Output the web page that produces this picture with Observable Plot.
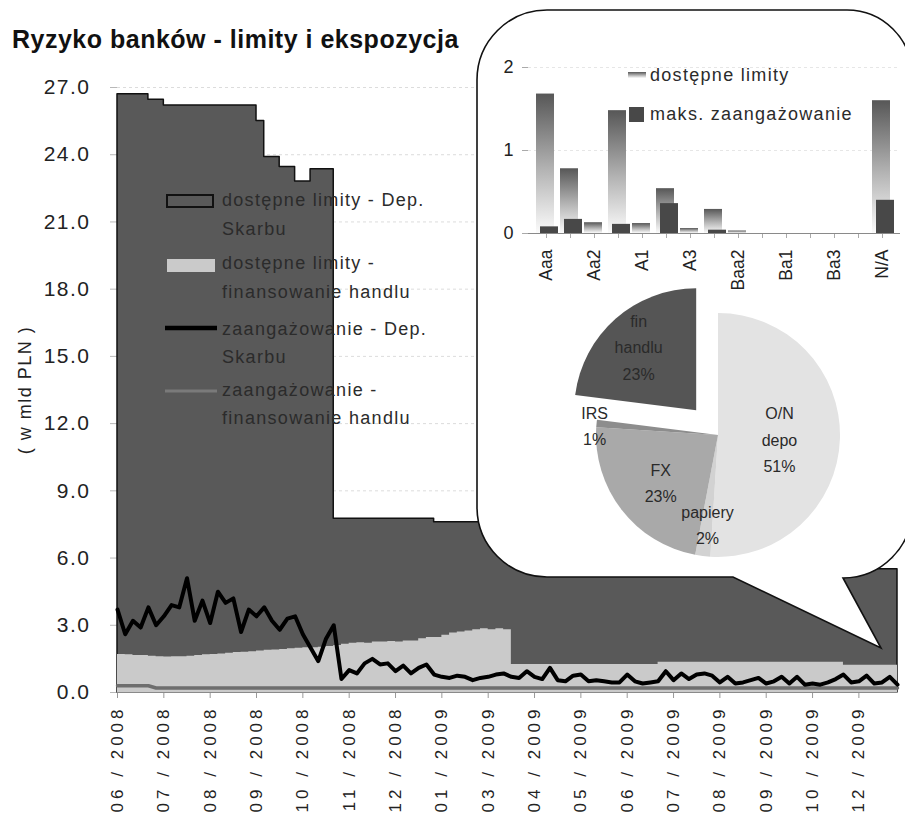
<!DOCTYPE html>
<html lang="pl">
<head>
<meta charset="utf-8">
<title>Ryzyko banków - limity i ekspozycja</title>
<script src="https://cdn.jsdelivr.net/npm/d3@7"></script>
<script src="https://cdn.jsdelivr.net/npm/@observablehq/plot@0.6"></script>
<style>
  html, body { margin: 0; padding: 0; background: #fff; }
  #chart { position: relative; width: 905px; height: 821px; overflow: hidden; font-family: "Liberation Sans", Arial, Helvetica, sans-serif; }
  #chart .layer { position: absolute; }
  #title { position: absolute; left: 12px; top: 27px; font-size: 25px; line-height: 25px; font-weight: bold; letter-spacing: 0.5px; color: #111; white-space: nowrap; }
  #ytitle { position: absolute; left: 25px; top: 390px; width: 200px; margin-left: -100px; margin-top: -10px; height: 20px; line-height: 20px;
            text-align: center; font-size: 18px; letter-spacing: 1.5px; color: #222; transform: rotate(-90deg); white-space: nowrap; }
  #main [aria-label^="y-axis"] text { font-size: 21px !important; letter-spacing: 1.5px; fill: #222; }
  #main [aria-label^="x-axis"] text { font-size: 17px !important; letter-spacing: 4px; fill: #222; }
  #main [aria-label^="y-axis"] path, #main [aria-label^="y-axis"] line { stroke: #b8b8b8; }
  #main [aria-label^="x-axis"] path, #main [aria-label^="x-axis"] line { stroke: #999; }
  #inset [aria-label^="y-axis"] text { font-size: 18px !important; fill: #222; }
  #inset [aria-label^="x-axis"] text { font-size: 17.5px !important; fill: #222; }
  #inset [aria-label^="y-axis"] path, #inset [aria-label^="y-axis"] line,
  #inset [aria-label^="x-axis"] path, #inset [aria-label^="x-axis"] line { stroke: #aaa; }
  #pie [aria-label="pie-label"] text { letter-spacing: 0.8px; }
</style>
</head>
<body>
<div id="chart">
  <div class="layer" id="main" style="left:0;top:0;"></div>
  <div class="layer" id="bubble" style="left:470px;top:0;"></div>
  <div class="layer" id="inset" style="left:470px;top:0;"></div>
  <div class="layer" id="pie" style="left:568px;top:285px;"></div>
  <div id="title">Ryzyko banków - limity i ekspozycja</div>
  <div id="ytitle">( w mld PLN )</div>
</div>
<script>
const FONT = '"Liberation Sans", Arial, Helvetica, sans-serif';

// ---- Main chart: daily series sampled on the category axis (observation index) ----
const tickIndex = [0, 6, 12, 18, 24, 30, 36, 42, 48, 54, 60, 66, 72, 78, 84, 90, 96];
const tickLabels = ["06 / 2008", "07 / 2008", "08 / 2008", "09 / 2008", "10 / 2008", "11 / 2008",
  "12 / 2008", "01 / 2009", "03 / 2009", "04 / 2009", "05 / 2009", "06 / 2009", "07 / 2009",
  "08 / 2009", "09 / 2009", "10 / 2009", "12 / 2009"];
const yTicks = [0, 3, 6, 9, 12, 15, 18, 21, 24, 27];

// dostępne limity - Dep. Skarbu (total available limits, bn PLN)
const limitDS = [
  26.7, 26.7, 26.7, 26.7, 26.45, 26.45, 26.2, 26.2, 26.2, 26.2,
  26.2, 26.2, 26.2, 26.2, 26.2, 26.2, 26.2, 26.2, 25.5, 23.9,
  23.9, 23.45, 23.45, 22.8, 22.8, 23.35, 23.35, 23.35, 7.75, 7.75,
  7.75, 7.75, 7.75, 7.75, 7.75, 7.75, 7.75, 7.75, 7.75, 7.75,
  7.75, 7.6, 7.6, 7.6, 7.6, 7.6, 7.6, 7.6, 7.6, 7.6,
  7.0, 6.0, 6.0, 6.0, 6.0, 6.0, 6.0, 6.0, 6.0, 6.0,
  6.0, 6.0, 6.0, 6.0, 6.0, 6.0, 6.0, 6.0, 6.0, 5.75,
  5.75, 5.75, 5.75, 5.75, 5.75, 5.75, 5.75, 5.75, 5.75, 5.75,
  5.75, 5.75, 5.75, 5.75, 5.75, 5.75, 5.75, 5.5, 5.5, 5.5,
  5.5, 5.5, 5.5, 5.5, 5.5, 5.5, 5.5, 5.5, 5.5, 5.5,
  5.5, 5.5
];
// dostępne limity - finansowanie handlu
const limitFin = [
  1.7, 1.68, 1.65, 1.65, 1.62, 1.6, 1.58, 1.6, 1.6, 1.62,
  1.65, 1.68, 1.7, 1.72, 1.75, 1.78, 1.8, 1.82, 1.85, 1.88,
  1.9, 1.92, 1.95, 1.98, 2.0, 2.0, 2.02, 2.05, 2.1, 2.15,
  2.2, 2.22, 2.2, 2.25, 2.25, 2.28, 2.25, 2.3, 2.3, 2.4,
  2.45, 2.45, 2.55, 2.65, 2.7, 2.75, 2.8, 2.85, 2.8, 2.85,
  2.8, 1.25, 1.25, 1.25, 1.25, 1.25, 1.25, 1.25, 1.25, 1.25,
  1.25, 1.25, 1.25, 1.25, 1.25, 1.25, 1.25, 1.25, 1.25, 1.25,
  1.35, 1.35, 1.35, 1.35, 1.35, 1.35, 1.35, 1.35, 1.35, 1.35,
  1.35, 1.35, 1.35, 1.35, 1.35, 1.35, 1.35, 1.35, 1.35, 1.35,
  1.35, 1.35, 1.35, 1.35, 1.22, 1.22, 1.22, 1.22, 1.22, 1.22,
  1.22, 1.22
];
// zaangażowanie - Dep. Skarbu
const expDS = [
  3.7, 2.6, 3.2, 2.9, 3.8, 3.0, 3.4, 3.9, 3.8, 5.1,
  3.2, 4.1, 3.1, 4.5, 4.0, 4.2, 2.7, 3.7, 3.4, 3.8,
  3.2, 2.8, 3.3, 3.4, 2.6, 2.0, 1.4, 2.4, 3.0, 0.6,
  1.0, 0.85, 1.3, 1.5, 1.25, 1.3, 0.95, 1.2, 0.85, 1.1,
  1.25, 0.8, 0.7, 0.65, 0.75, 0.7, 0.55, 0.65, 0.7, 0.8,
  0.85, 0.7, 0.65, 0.95, 0.7, 0.6, 1.1, 0.55, 0.5, 0.75,
  0.8, 0.5, 0.55, 0.5, 0.45, 0.45, 0.8, 0.5, 0.4, 0.45,
  0.5, 0.95, 0.55, 0.85, 0.6, 0.8, 0.85, 0.75, 0.45, 0.7,
  0.4, 0.45, 0.55, 0.65, 0.4, 0.5, 0.7, 0.4, 0.7, 0.35,
  0.4, 0.35, 0.45, 0.6, 0.8, 0.45, 0.5, 0.75, 0.4, 0.45,
  0.7, 0.35
];
// zaangażowanie - finansowanie handlu
const expFin = [
  0.3, 0.3, 0.3, 0.3, 0.3, 0.2, 0.2, 0.2, 0.2, 0.2,
  0.2, 0.2, 0.2, 0.2, 0.2, 0.2, 0.2, 0.2, 0.2, 0.2,
  0.2, 0.2, 0.2, 0.2, 0.2, 0.2, 0.2, 0.2, 0.2, 0.2,
  0.2, 0.2, 0.2, 0.2, 0.2, 0.2, 0.2, 0.2, 0.2, 0.2,
  0.2, 0.2, 0.2, 0.2, 0.2, 0.2, 0.2, 0.2, 0.2, 0.2,
  0.2, 0.2, 0.2, 0.2, 0.2, 0.2, 0.2, 0.2, 0.2, 0.2,
  0.2, 0.2, 0.2, 0.2, 0.2, 0.2, 0.2, 0.2, 0.2, 0.2,
  0.2, 0.2, 0.2, 0.2, 0.2, 0.2, 0.2, 0.2, 0.2, 0.2,
  0.2, 0.2, 0.2, 0.2, 0.2, 0.2, 0.2, 0.2, 0.2, 0.2,
  0.2, 0.2, 0.2, 0.2, 0.2, 0.2, 0.2, 0.2, 0.2, 0.2,
  0.2, 0.2
];
const mainLegendText = [
  ["dostępne limity - Dep.", "Skarbu"],
  ["dostępne limity -", "finansowanie handlu"],
  ["zaangażowanie - Dep.", "Skarbu"],
  ["zaangażowanie -", "finansowanie handlu"]
];

// ---- Inset: limits and maximum exposure by rating ----
const ratings = ["Aaa", "Aa1", "Aa2", "Aa3", "A1", "A2", "A3", "Baa1", "Baa2", "Baa3", "Ba1", "Ba2", "Ba3", "B1", "N/A"];
const ratingShown = ["Aaa", "Aa2", "A1", "A3", "Baa2", "Ba1", "Ba3", "N/A"];
const ratingLimit = [1.68, 0.78, 0.13, 1.48, 0.12, 0.54, 0.06, 0.29, 0.03, 0, 0, 0, 0, 0, 1.6];
const ratingMaxExp = [0.08, 0.17, 0, 0.11, 0, 0.36, 0, 0.04, 0, 0, 0, 0, 0, 0, 0.4];
const insetLegendText = ["dostępne limity", "maks. zaangażowanie"];

// ---- Inset pie: exposure structure ----
const pieNames = ["O/N\ndepo", "papiery", "FX", "IRS", "fin\nhandlu"];
const pieShares = [51, 2, 23, 1, 23];
const pieColors = ["#e3e3e3", "#d2d2d2", "#a9a9a9", "#8d8d8d", "#555555"];
const pieExplode = [0, 0, 0, 0, 0.27];
const pieLabelRadius = [0.5, 0.72, 0.6, 1.02, 0.72];

const C = {dark: "#595959", light: "#cacaca", line2: "#6e6e6e"};

// ---------- main chart ----------
const rows = expDS.map((v, i) => ({i, limDS: limitDS[i], limFin: limitFin[i], expDS: v, expFin: expFin[i]}));

function mainLegend() {
  const g = d3.create("svg:g")
    .attr("font-family", FONT).attr("font-size", 18).attr("fill", "#2b2b2b")
    .attr("text-anchor", "start")
    .style("letter-spacing", "1.3px");
  const lineY = [[200, 229], [263, 292], [329, 357], [390, 418]];
  g.append("rect").attr("x", 167).attr("y", 195).attr("width", 46).attr("height", 12)
    .attr("fill", C.dark).attr("stroke", "#111").attr("stroke-width", 2);
  g.append("rect").attr("x", 167).attr("y", 259).attr("width", 48).attr("height", 13)
    .attr("fill", C.light);
  g.append("line").attr("x1", 165).attr("x2", 217).attr("y1", 328).attr("y2", 328)
    .attr("stroke", "#000").attr("stroke-width", 4.5);
  g.append("line").attr("x1", 165).attr("x2", 217).attr("y1", 391).attr("y2", 391)
    .attr("stroke", "#7a7a7a").attr("stroke-width", 3);
  mainLegendText.forEach((lines, k) => {
    lines.forEach((t, j) => {
      g.append("text").attr("x", 222).attr("y", lineY[k][j]).attr("dy", "0.35em").text(t);
    });
  });
  return g.node();
}

const mainPlot = Plot.plot({
  width: 905, height: 821,
  marginLeft: 117, marginRight: 8, marginTop: 87, marginBottom: 129,
  style: {background: "transparent", fontFamily: FONT, fontSize: "21px", color: "#222", overflow: "visible"},
  x: {domain: [0, rows.length - 1], ticks: tickIndex, tickFormat: d => tickLabels[tickIndex.indexOf(d)],
      tickRotate: -90, tickSize: 6, tickPadding: 7, label: null},
  y: {domain: [0, 27], ticks: yTicks, tickFormat: d => d.toFixed(1), tickSize: 7, tickPadding: 20, label: null},
  marks: [
    Plot.ruleY(yTicks.slice(1), {stroke: "#dcdcdc", strokeDasharray: "3,3"}),
    Plot.areaY(rows, {x: "i", y: "limDS", fill: C.dark, stroke: "#111", strokeWidth: 1.5, curve: "step-after"}),
    Plot.areaY(rows, {x: "i", y: "limFin", fill: C.light, curve: "step-after"}),
    Plot.ruleY([0], {stroke: "#8a8a8a"}),
    Plot.lineY(rows, {x: "i", y: "expFin", stroke: C.line2, strokeWidth: 3.5}),
    Plot.lineY(rows, {x: "i", y: "expDS", stroke: "#000", strokeWidth: 4, strokeLinejoin: "round"}),
    mainLegend
  ]
});
document.getElementById("main").appendChild(mainPlot);

// ---------- callout bubble behind the inset ----------
const bubbleSvg = d3.create("svg").attr("width", 435).attr("height", 660).style("display", "block");
bubbleSvg.append("path")
  .attr("d", "M77,10 H377 A65,65 0 0 1 442,75 V509 A69,69 0 0 1 373,578 L411,648 L263,577 H77 A70,70 0 0 1 7,507 V80 A70,70 0 0 1 77,10 Z")
  .attr("fill", "#fff").attr("stroke", "#111").attr("stroke-width", 1.6);
document.getElementById("bubble").appendChild(bubbleSvg.node());

// ---------- inset bar chart ----------
const ratingRows = ratings.map((r, k) => ({r, limit: ratingLimit[k], maxExp: ratingMaxExp[k]}));

function gradientDefs() {
  const defs = d3.create("svg:defs");
  const grad = defs.append("linearGradient").attr("id", "limGrad")
    .attr("x1", 0).attr("y1", 0).attr("x2", 0).attr("y2", 1);
  grad.append("stop").attr("offset", "0%").attr("stop-color", "#575757");
  grad.append("stop").attr("offset", "55%").attr("stop-color", "#b4b4b4");
  grad.append("stop").attr("offset", "100%").attr("stop-color", "#fbfbfb");
  return defs.node();
}

function insetLegend() {
  const g = d3.create("svg:g")
    .attr("font-family", FONT).attr("font-size", 18).attr("fill", "#2b2b2b")
    .attr("text-anchor", "start")
    .style("letter-spacing", "1.3px");
  g.append("rect").attr("x", 158).attr("y", 72).attr("width", 18).attr("height", 6).attr("fill", "url(#limGrad)");
  g.append("rect").attr("x", 159).attr("y", 107).attr("width", 15).attr("height", 15).attr("fill", "#484848");
  g.append("text").attr("x", 180).attr("y", 75).attr("dy", "0.35em").text(insetLegendText[0]);
  g.append("text").attr("x", 180).attr("y", 114).attr("dy", "0.35em").text(insetLegendText[1]);
  return g.node();
}

const insetPlot = Plot.plot({
  width: 435, height: 660,
  marginLeft: 58, marginRight: 5, marginTop: 67, marginBottom: 427,
  style: {background: "transparent", fontFamily: FONT, fontSize: "18px", color: "#222", overflow: "hidden"},
  x: {type: "band", domain: ratings, padding: 0, tickFormat: d => ratingShown.includes(d) ? d : "",
      tickRotate: -90, tickSize: 5, tickPadding: 11, label: null},
  y: {domain: [0, 2], ticks: [0, 1, 2], tickFormat: d => String(d), tickSize: 6, tickPadding: 9, label: null},
  marks: [
    gradientDefs,
    Plot.ruleY([1, 2], {stroke: "#e6e6e6", strokeDasharray: "3,3"}),
    Plot.barY(ratingRows, {x: "r", y: "limit", fill: "url(#limGrad)", insetLeft: 2, insetRight: 4}),
    Plot.barY(ratingRows, {x: "r", y: "maxExp", fill: "#484848", insetLeft: 6, insetRight: 0}),
    Plot.ruleY([0], {stroke: "#8a8a8a"}),
    insetLegend
  ]
});
document.getElementById("inset").appendChild(insetPlot);

// ---------- pie ----------
const R = 122; // pie radius in pixels; the scales are expressed in radius units
const pieArcs = d3.pie().sort(null).value(d => d)(pieShares);
const pieRows = pieArcs.map((a, k) => {
  const mid = (a.startAngle + a.endAngle) / 2;
  const rr = pieExplode[k] + pieLabelRadius[k];
  return {label: pieNames[k] + "\n" + pieShares[k] + "%", x: rr * Math.sin(mid), y: rr * Math.cos(mid)};
});

function pieSlices(index, scales) {
  const sx = scales.x, sy = scales.y;
  const r = sx(1) - sx(0);
  const g = d3.create("svg:g").attr("transform", `translate(${sx(0)},${sy(0)})`);
  const arc = d3.arc().innerRadius(0).outerRadius(r);
  pieArcs.forEach((a, k) => {
    const mid = (a.startAngle + a.endAngle) / 2;
    const e = pieExplode[k];
    const ox = sx(e * Math.sin(mid)) - sx(0);
    const oy = sy(e * Math.cos(mid)) - sy(0);
    g.append("path").attr("d", arc(a)).attr("transform", `translate(${ox},${oy})`).attr("fill", pieColors[k]);
  });
  return g.node();
}

const piePlot = Plot.plot({
  width: 300, height: 300, margin: 0,
  style: {background: "transparent", fontFamily: FONT, overflow: "visible"},
  x: {domain: [-150 / R, 150 / R], axis: null},
  y: {domain: [-150 / R, 150 / R], axis: null},
  marks: [
    pieSlices,
    Plot.text(pieRows, {x: "x", y: "y", text: "label", fontSize: 16, lineHeight: 1.65, fill: "#2a2a2a", ariaLabel: "pie-label"})
  ]
});
document.getElementById("pie").appendChild(piePlot);
</script>
</body>
</html>
